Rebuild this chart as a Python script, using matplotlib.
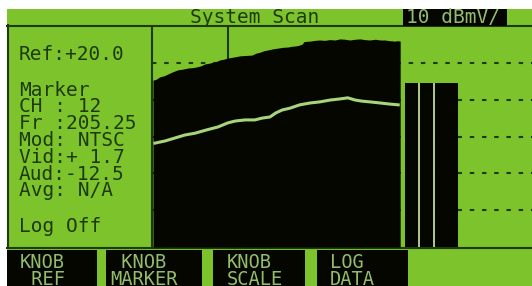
import matplotlib
matplotlib.use("Agg")
import matplotlib.pyplot as plt
from matplotlib.patches import Rectangle

# ---------------- data ----------------
title = "System Scan"
scale_label = "10 dBmV/"
ref_level = 20.0          # dBmV (top of screen)
db_per_div = 10
n_div = 6
span_start = 50.0         # MHz
span_stop = 826.3         # MHz
marker_freq = 205.25      # MHz

# upper envelope of the analog channel block (MHz, dBmV)
edge_freq = [52, 58, 66, 75, 83, 93, 103, 113, 124, 133, 142, 150, 158, 167, 175,
             182, 189, 197, 205, 218, 230, 242, 254, 262, 271, 279, 287, 297,
             307, 317, 328, 336, 344, 351, 357, 360, 363, 373, 383, 393, 403,
             413, 424, 434, 444, 454, 465, 475, 485, 495, 506, 516, 526, 536,
             546, 552, 557]
edge_level = [5.3, 5.5, 6.2, 6.5, 7.0, 7.6, 8.1, 8.3, 8.6, 8.7, 8.9, 9.2, 9.7, 9.9,
              10.2, 10.4, 10.8, 11.0, 11.3, 11.6, 11.9, 12.0, 12.1, 12.6, 12.9,
              13.3, 13.5, 13.8, 14.0, 14.2, 14.3, 14.5, 14.6, 14.8, 15.1, 15.7,
              15.8, 15.9, 16.1, 16.2, 16.1, 16.3, 16.2, 16.5, 16.4, 16.2, 16.4,
              16.5, 16.3, 16.2, 16.4, 16.2, 16.2, 16.0, 15.9, 16.0, 15.9]

# lower trace (MHz, dBmV)
trace_freq = [56, 77, 97, 117, 138, 162, 185, 205, 220, 240, 260, 275, 291, 303,
              316, 332, 352, 373, 393, 414, 434, 450, 465, 479, 495, 516, 536, 553]
trace_level = [-11.8, -11.2, -10.4, -9.6, -9.1, -8.2, -7.4, -6.3, -5.8, -5.5, -5.5,
               -5.0, -4.7, -3.6, -2.8, -2.3, -1.4, -0.9, -0.6, -0.1, 0.2, 0.5,
               -0.1, -0.4, -0.6, -0.9, -1.2, -1.4]

# digital channel blocks (MHz, dBmV)
bar_left = [567, 597, 628]
bar_width = [28, 29, 47]
bar_level = [4.5, 4.5, 4.5]
gap_freq = [595.5, 626.1]

grid_levels = [10, 0, -10, -20, -30]

panel_lines = ["Ref:+20.0", "Marker", "CH : 12", "Fr :205.25", "Mod: NTSC",
               "Vid:+ 1.7", "Aud:-12.5", "Avg: N/A", "Log Off"]
softkeys = ["KNOB\n REF", " KNOB\nMARKER", "KNOB\nSCALE", "LOG\nDATA"]

# ---------------- style / layout ----------------
GREEN = "#7dc42c"
DARK = "#1e3a0c"
BLACK = "#050600"
PALE = "#a8d47a"
GAPC = "#b2c98a"
KEYTXT = "#93bd6a"
FONT = "DejaVu Sans Mono"
plt.rcParams["lines.scale_dashes"] = False

W, H = 532, 286
fig = plt.figure(figsize=(W / 100, H / 100), dpi=100, facecolor="white")

bg = fig.add_axes([0, 0, 1, 1])
bg.set_xlim(0, W)
bg.set_ylim(H, 0)
bg.axis("off")

bg.add_patch(Rectangle((7, 9), W - 7, H - 9, color=GREEN, lw=0, zorder=0))
# frame lines
bg.plot([7, W], [25.5, 25.5], color=DARK, lw=1.5, zorder=2)
bg.plot([8, 8], [25, 248], color=DARK, lw=1.5, zorder=2)
bg.plot([7, W], [247.5, 247.5], color=DARK, lw=1.5, zorder=2)

# title bar
bg.text(190, 23, title, family=FONT, fontsize=14, color=DARK, va="baseline",
        ha="left", zorder=3)
bg.add_patch(Rectangle((403, 9), 104, 17, color=BLACK, lw=0, zorder=2))
bg.text(406, 23, scale_label, family=FONT, fontsize=14, color=KEYTXT,
        va="baseline", ha="left", zorder=3)

# left info panel
panel_baselines = [60, 96, 112, 129, 146, 163, 180, 196, 232]
for txt, yb in zip(panel_lines, panel_baselines):
    bg.text(19, yb, txt, family=FONT, fontsize=14, color=DARK, va="baseline",
            ha="left", zorder=3)

# soft keys
key_boxes = [(7, 97), (106, 202), (213, 305), (317, 408)]
key_text_x = [20, 110, 227, 330]
for (x0, x1), tx, lab in zip(key_boxes, key_text_x, softkeys):
    bg.add_patch(Rectangle((x0, 250), x1 - x0, H - 250, color=BLACK, lw=0, zorder=2))
    l1, l2 = lab.split("\n")
    bg.text(tx, 268, l1, family=FONT, fontsize=13.5, color=KEYTXT,
            va="baseline", ha="left", zorder=3)
    bg.text(tx, 285, l2, family=FONT, fontsize=13.5, color=KEYTXT,
            va="baseline", ha="left", zorder=3)

# ---------------- spectrum axes ----------------
ax = fig.add_axes([152 / W, (H - 247) / H, (W - 152) / W, (247 - 26) / H])
bottom = ref_level - n_div * db_per_div
ax.set_xlim(span_start, span_stop)
ax.set_ylim(bottom, ref_level)
ax.patch.set_alpha(0)
ax.set_xticks([])
ax.set_yticks([])
for s in ["top", "right", "bottom"]:
    ax.spines[s].set_visible(False)
ax.spines["left"].set_color(DARK)
ax.spines["left"].set_linewidth(1.5)

for lv in grid_levels:
    ax.axhline(lv, color=DARK, lw=1.5, dashes=(3.2, 5.6), zorder=1)
ax.axvline(marker_freq, color=DARK, lw=1.5, zorder=1)

ax.fill_between(edge_freq, edge_level, bottom, color=BLACK, lw=0, zorder=3)
ax.plot(trace_freq, trace_level, color=PALE, lw=2.2, zorder=4,
        solid_joinstyle="round")
ax.bar(bar_left, [lv - bottom for lv in bar_level], width=bar_width,
       bottom=bottom, align="edge", color=BLACK, lw=0, zorder=3)
ax.vlines(gap_freq, bottom, bar_level[0], color=GAPC, lw=1.4, zorder=4)

fig.savefig("out.png", dpi=100, facecolor="white")
